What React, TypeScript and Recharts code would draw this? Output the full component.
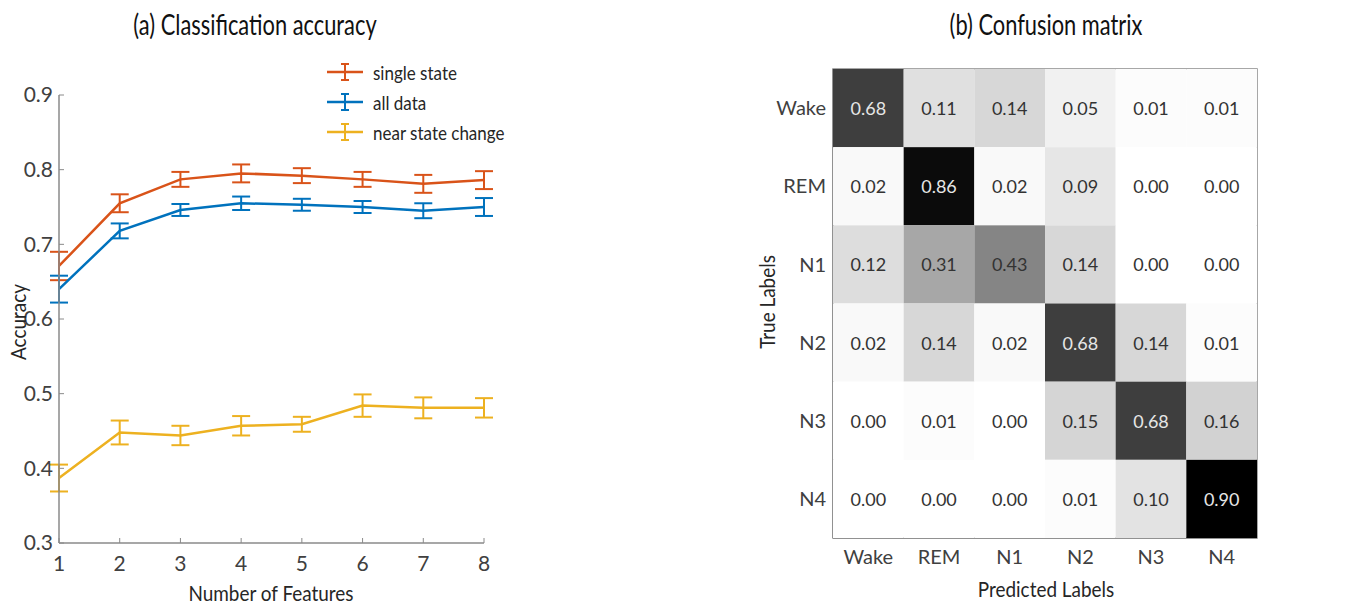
import {
  LineChart,
  Line,
  XAxis,
  YAxis,
  ErrorBar,
  ScatterChart,
  Scatter,
  ReferenceArea,
} from "recharts";

// (a) classification accuracy
const FEATURES = [1, 2, 3, 4, 5, 6, 7, 8];
const SINGLE_STATE = [0.671, 0.755, 0.787, 0.795, 0.792, 0.787, 0.781, 0.786];
const SINGLE_STATE_ERR = [0.019, 0.012, 0.01, 0.012, 0.01, 0.01, 0.012, 0.012];
const ALL_DATA = [0.64, 0.718, 0.746, 0.755, 0.753, 0.75, 0.745, 0.75];
const ALL_DATA_ERR = [0.018, 0.01, 0.008, 0.009, 0.008, 0.008, 0.01, 0.012];
const NEAR_CHANGE = [0.387, 0.448, 0.444, 0.457, 0.459, 0.484, 0.481, 0.481];
const NEAR_CHANGE_ERR = [0.018, 0.016, 0.013, 0.013, 0.01, 0.015, 0.014, 0.013];
const ACC_TICKS = [0.3, 0.4, 0.5, 0.6, 0.7, 0.8, 0.9];

// (b) confusion matrix, rows = true label, cols = predicted label
const STAGES = ["Wake", "REM", "N1", "N2", "N3", "N4"];
const CONFUSION = [
  [0.68, 0.11, 0.14, 0.05, 0.01, 0.01],
  [0.02, 0.86, 0.02, 0.09, 0.0, 0.0],
  [0.12, 0.31, 0.43, 0.14, 0.0, 0.0],
  [0.02, 0.14, 0.02, 0.68, 0.14, 0.01],
  [0.0, 0.01, 0.0, 0.15, 0.68, 0.16],
  [0.0, 0.0, 0.0, 0.01, 0.1, 0.9],
];

const ORANGE = "#D95319";
const BLUE = "#0072BD";
const YELLOW = "#EDB120";
const AXIS = "#8a8a8a";
const TICK_TEXT = "#404040";
const FONT = "Lato, 'Open Sans', sans-serif";

const SERIES = [
  { key: "single", err: "singleErr", name: "single state", color: ORANGE },
  { key: "all", err: "allErr", name: "all data", color: BLUE },
  { key: "near", err: "nearErr", name: "near state change", color: YELLOW },
];

const accuracyData = FEATURES.map((f, i) => ({
  features: f,
  single: SINGLE_STATE[i],
  singleErr: SINGLE_STATE_ERR[i],
  all: ALL_DATA[i],
  allErr: ALL_DATA_ERR[i],
  near: NEAR_CHANGE[i],
  nearErr: NEAR_CHANGE_ERR[i],
}));

const matrixData = CONFUSION.flatMap((row, i) =>
  row.map((v, j) => ({ pred: j + 1, truth: i + 1, v }))
);

// matrix plot box
const M_W = 616;
const M_H = 606;
const M_MARGIN = { top: 69, right: 99, bottom: 38, left: 33 };
const M_YAXIS_W = 60;
const M_XAXIS_H = 30;
const CELL_W = (M_W - M_MARGIN.left - M_MARGIN.right - M_YAXIS_W) / STAGES.length;
const CELL_H = (M_H - M_MARGIN.top - M_MARGIN.bottom - M_XAXIS_H) / STAGES.length;

function ErrLegend() {
  return (
    <div
      style={{
        position: "absolute",
        left: 320,
        top: 57,
        background: "#fff",
        padding: "0 6px",
        fontFamily: FONT,
        fontSize: 20,
        color: "#262626",
      }}
    >
      {SERIES.map((s) => (
        <div key={s.key} style={{ display: "flex", alignItems: "center", height: 30 }}>
          <svg width={38} height={22}>
            <line x1={1} x2={37} y1={11} y2={11} stroke={s.color} strokeWidth={2.5} />
            <line x1={19} x2={19} y1={3} y2={19} stroke={s.color} strokeWidth={2} />
            <line x1={15} x2={23} y1={3} y2={3} stroke={s.color} strokeWidth={2} />
            <line x1={15} x2={23} y1={19} y2={19} stroke={s.color} strokeWidth={2} />
          </svg>
          <span style={{ marginLeft: 9, transform: "scaleX(0.85)", transformOrigin: "left" }}>{s.name}</span>
        </div>
      ))}
    </div>
  );
}

// eslint-disable-next-line @typescript-eslint/no-explicit-any
function MatrixCell(props: any) {
  const { cx, cy, payload } = props;
  const g = Math.max(0, Math.round(255 * (1 - payload.v / 0.9)));
  const fill = `rgb(${g},${g},${g})`;
  const textColor = payload.v > 0.5 ? "#e6e6e6" : "#333";
  return (
    <g>
      <rect x={cx - CELL_W / 2} y={cy - CELL_H / 2} width={CELL_W} height={CELL_H} fill={fill} />
      <text
        x={cx}
        y={cy}
        textAnchor="middle"
        dominantBaseline="central"
        fontFamily={FONT}
        fontSize={18}
        fill={textColor}
      >
        {payload.v.toFixed(2)}
      </text>
    </g>
  );
}

const titleStyle = {
  position: "absolute" as const,
  fontFamily: FONT,
  fontSize: 28,
  color: "#111",
  whiteSpace: "nowrap" as const,
  transform: "translate(-50%, -50%) scaleX(0.78)",
};

const axisTitleStyle = {
  position: "absolute" as const,
  fontFamily: FONT,
  fontSize: 22,
  color: "#262626",
  whiteSpace: "nowrap" as const,
};

export default function App() {
  return (
    <div style={{ position: "absolute", left: 0, top: 0, width: 1356, height: 606, background: "#fff" }}>
      <div style={{ ...titleStyle, left: 255, top: 24 }}>(a) Classification accuracy</div>
      <div style={{ ...titleStyle, left: 1046, top: 24 }}>(b) Confusion matrix</div>

      <div style={{ position: "absolute", left: 0, top: 0 }}>
        <LineChart width={700} height={606} data={accuracyData} margin={{ top: 95, right: 216, bottom: 33, left: 14 }}>
          <XAxis
            dataKey="features"
            type="number"
            domain={[1, 8]}
            ticks={FEATURES}
            height={30}
            axisLine={{ stroke: AXIS, strokeWidth: 1.5 }}
            tickLine={{ stroke: AXIS }}
            tickSize={-5}
            tickMargin={18}
            tick={{ fill: TICK_TEXT, fontSize: 21, fontFamily: FONT }}
          />
          <YAxis
            type="number"
            domain={[0.3, 0.9]}
            ticks={ACC_TICKS}
            width={45}
            axisLine={{ stroke: AXIS, strokeWidth: 1.5 }}
            tickLine={{ stroke: AXIS }}
            tickSize={-5}
            tickMargin={11}
            tickFormatter={(v: number) => v.toFixed(1)}
            tick={{ fill: TICK_TEXT, fontSize: 21, fontFamily: FONT }}
          />
          {SERIES.map((s) => (
            <Line
              key={s.key}
              dataKey={s.key}
              name={s.name}
              type="linear"
              stroke={s.color}
              strokeWidth={2.5}
              dot={false}
              isAnimationActive={false}
            >
              <ErrorBar dataKey={s.err} width={9} strokeWidth={2} stroke={s.color} direction="y" />
            </Line>
          ))}
        </LineChart>
      </div>
      <ErrLegend />
      <div style={{ ...axisTitleStyle, left: 271, top: 592, transform: "translate(-50%, -50%) scaleX(0.86)" }}>
        Number of Features
      </div>
      <div style={{ ...axisTitleStyle, left: 17, top: 322, transform: "translate(-50%, -50%) rotate(-90deg) scaleX(0.86)" }}>
        Accuracy
      </div>

      <div style={{ position: "absolute", left: 740, top: 0 }}>
        <ScatterChart width={M_W} height={M_H} margin={M_MARGIN}>
          <XAxis
            dataKey="pred"
            type="number"
            domain={[0.5, 6.5]}
            ticks={[1, 2, 3, 4, 5, 6]}
            height={M_XAXIS_H}
            axisLine={{ stroke: AXIS, strokeWidth: 1.5 }}
            tickLine={{ stroke: AXIS }}
            tickSize={-4}
            tickMargin={16}
            tickFormatter={(v: number) => STAGES[v - 1]}
            tick={{ fill: TICK_TEXT, fontSize: 20, fontFamily: FONT }}
          />
          <YAxis
            dataKey="truth"
            type="number"
            domain={[0.5, 6.5]}
            ticks={[1, 2, 3, 4, 5, 6]}
            reversed
            width={M_YAXIS_W}
            axisLine={{ stroke: AXIS, strokeWidth: 1.5 }}
            tickLine={{ stroke: AXIS }}
            tickSize={-4}
            tickMargin={11}
            tickFormatter={(v: number) => STAGES[v - 1]}
            tick={{ fill: TICK_TEXT, fontSize: 20, fontFamily: FONT }}
          />
          <Scatter data={matrixData} shape={<MatrixCell />} isAnimationActive={false} />
          <ReferenceArea x1={0.5} x2={6.5} y1={0.5} y2={6.5} fill="none" stroke={AXIS} strokeWidth={1.5} />
        </ScatterChart>
      </div>
      <div style={{ ...axisTitleStyle, left: 1046, top: 588, transform: "translate(-50%, -50%) scaleX(0.86)" }}>
        Predicted Labels
      </div>
      <div style={{ ...axisTitleStyle, left: 766, top: 302, transform: "translate(-50%, -50%) rotate(-90deg) scaleX(0.86)" }}>
        True Labels
      </div>
    </div>
  );
}
